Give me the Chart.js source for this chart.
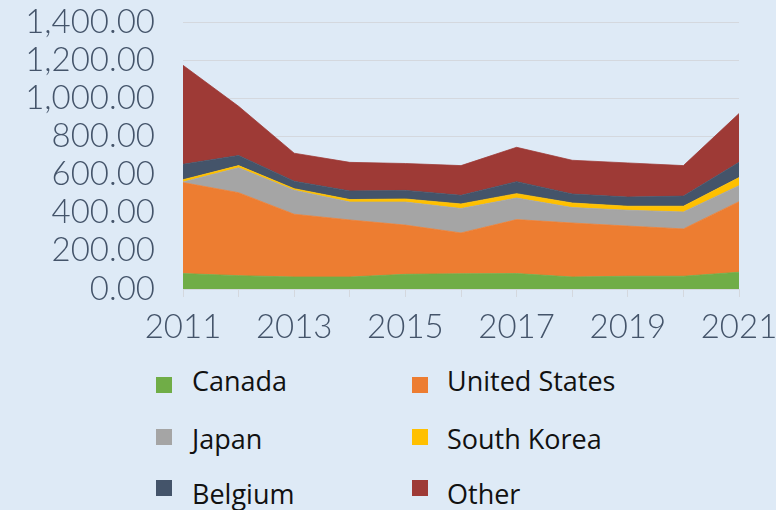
<!DOCTYPE html>
<html>
<head>
<meta charset="utf-8">
<script src="https://cdn.jsdelivr.net/npm/chart.js@4/dist/chart.umd.min.js"></script>
<style>
  html, body { margin: 0; padding: 0; background: #DEEAF6; }
  #wrap { position: relative; width: 776px; height: 510px; overflow: hidden; background: #DEEAF6; }
  #c { position: absolute; left: 0; top: 0; }
  .lg-box { position: absolute; width: 16px; height: 16px; }
  .lg-text { position: absolute; font-family: "Open Sans", sans-serif; font-size: 27px; line-height: 27px; color: #111; white-space: nowrap; }
</style>
</head>
<body>
<div id="wrap">
  <canvas id="c" width="776" height="338"></canvas>
  <div id="legend"></div>
</div>
<script>
const years = ["2011","2012","2013","2014","2015","2016","2017","2018","2019","2020","2021"];
const canada       = [81, 70, 63, 63, 77, 80, 81, 63, 67, 67, 88];
const unitedStates = [477, 435, 329, 299, 258, 214, 283, 283, 263, 248, 370];
const japan        = [3, 131, 126, 94, 121, 128, 113, 81, 83, 89, 84];
const southKorea   = [12, 11, 8, 13, 16, 24, 23, 24, 21, 30, 42];
const belgium      = [81, 53, 39, 45, 45, 45, 63, 47, 48, 53, 80];
const other        = [519, 258, 147, 150, 141, 156, 180, 177, 179, 160, 256];
const seriesNames  = ["Canada", "United States", "Japan", "South Korea", "Belgium", "Other"];
const seriesColors = ["#70AD47", "#ED7D31", "#A5A5A5", "#FFC000", "#44546A", "#9E3A36"];
const yTicks = { min: 0, max: 1400, step: 200 };

const seriesData = [canada, unitedStates, japan, southKorea, belgium, other];
const datasets = seriesData.map((d, i) => ({
  label: seriesNames[i],
  data: d,
  backgroundColor: seriesColors[i],
  borderColor: seriesColors[i],
  borderWidth: 0.75,
  pointRadius: 0,
  pointHoverRadius: 0,
  tension: 0,
  fill: i === 0 ? 'origin' : '-1'
}));

const axisFont = { family: "Lato", weight: 300, size: 33 };
const axisColor = "#44546A";

const chart = new Chart(document.getElementById('c'), {
  type: 'line',
  data: { labels: years, datasets: datasets },
  options: {
    responsive: false,
    animation: false,
    layout: { padding: { top: 22, right: 37, left: 0, bottom: 0 } },
    plugins: { legend: { display: false }, tooltip: { enabled: false } },
    scales: {
      x: {
        offset: false,
        grid: { drawOnChartArea: false, drawTicks: true, tickLength: 8, color: "#D4D8DE" },
        border: { display: true, color: "#D4D8DE" },
        ticks: {
          autoSkip: false, maxRotation: 0, padding: 11,
          font: axisFont, color: axisColor,
          callback: function(v, i) { return i % 2 === 0 ? years[i] : ''; }
        },
        afterFit: function(s) { s.height = 49; s.paddingLeft = 0; s.paddingRight = 0; }
      },
      y: {
        stacked: true,
        min: yTicks.min, max: yTicks.max,
        grid: { drawTicks: false, color: "#D4D8DE" },
        border: { display: false },
        ticks: {
          stepSize: yTicks.step, padding: 28, autoSkip: false,
          font: axisFont, color: axisColor,
          callback: function(v) { return Number(v).toLocaleString('en-US', { minimumFractionDigits: 2, maximumFractionDigits: 2 }); }
        },
        afterFit: function(s) { s.width = 183; s.paddingTop = 0; s.paddingBottom = 0; }
      }
    }
  }
});

// HTML legend built from the chart's datasets (2 columns)
const legend = document.getElementById('legend');
const colX = [[156, 192], [412, 447]];
const boxY = [377, 429, 480];
const textY = [367, 425, 480];
chart.data.datasets.forEach((ds, i) => {
  const col = i % 2, row = Math.floor(i / 2);
  const box = document.createElement('div');
  box.className = 'lg-box';
  box.style.left = colX[col][0] + 'px';
  box.style.top = boxY[row] + 'px';
  box.style.background = ds.backgroundColor;
  legend.appendChild(box);
  const t = document.createElement('div');
  t.className = 'lg-text';
  t.style.left = colX[col][1] + 'px';
  t.style.top = textY[row] + 'px';
  t.textContent = ds.label;
  legend.appendChild(t);
});
</script>
</body>
</html>
